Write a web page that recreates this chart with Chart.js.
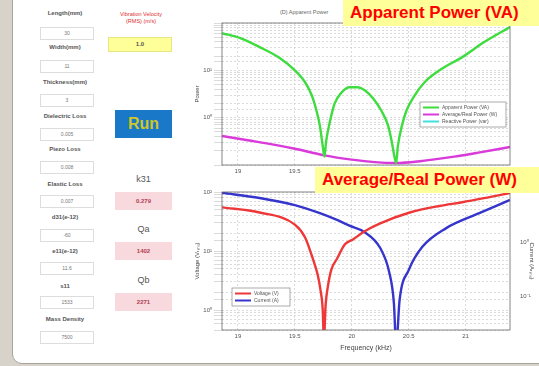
<!DOCTYPE html>
<html>
<head>
<meta charset="utf-8">
<script src="https://cdn.jsdelivr.net/npm/chart.js@4.4.0/dist/chart.umd.min.js"></script>
<style>
  body { margin: 0; width: 539px; height: 366px; background: #d8d3ca; overflow: hidden; font-family: "Liberation Sans", Arial, sans-serif; }
  #panel { position: absolute; left: 12px; top: -12px; width: 540px; height: 374px; background: #fff; border: 1px solid #a8a49c; border-radius: 10px; }
  .lbl { position: absolute; width: 70px; text-align: center; font-size: 6px; font-weight: bold; color: #555; }
  .box { position: absolute; left: 40px; width: 52px; height: 11px; border: 1px solid #ddd; font-size: 5px; color: #777; text-align: center; line-height: 11px; }
  .res { position: absolute; left: 115px; width: 57px; height: 18px; background: #f7d9de; font-size: 6px; font-weight: bold; color: #b04050; text-align: center; line-height: 18px; }
  .rlbl { position: absolute; left: 115px; width: 57px; text-align: center; font-size: 9px; color: #555; }
  canvas { position: absolute; }
  .tag { position: absolute; background: #ffff99; color: #f00; font-weight: bold; font-size: 17px; padding: 0 7px; z-index: 5; line-height: 26px; }
</style>
</head>
<body>
<div id="panel"></div>
<div class="lbl" style="left:30px;top:10px">Length(mm)</div><div class="box" style="top:27px">30</div>
<div class="lbl" style="left:30px;top:44px">Width(mm)</div><div class="box" style="top:60px">11</div>
<div class="lbl" style="left:30px;top:79px">Thickness(mm)</div><div class="box" style="top:94px">3</div>
<div class="lbl" style="left:30px;top:113px">Dielectric Loss</div><div class="box" style="top:128px">0.005</div>
<div class="lbl" style="left:30px;top:146px">Piezo Loss</div><div class="box" style="top:161px">0.008</div>
<div class="lbl" style="left:30px;top:181px">Elastic Loss</div><div class="box" style="top:195px">0.007</div>
<div class="lbl" style="left:30px;top:214px">d31(e-12)</div><div class="box" style="top:229px">-60</div>
<div class="lbl" style="left:30px;top:248px">e11(e-12)</div><div class="box" style="top:262px">11.6</div>
<div class="lbl" style="left:30px;top:283px">s11</div><div class="box" style="top:296px">1533</div>
<div class="lbl" style="left:30px;top:316px">Mass Density</div><div class="box" style="top:331px">7500</div>

<div style="position:absolute;left:105px;top:11px;width:72px;text-align:center;font-size:5.5px;color:#e03030;line-height:7px">Vibration Velocity<br>(RMS) (m/s)</div>
<div style="position:absolute;left:108px;top:37px;width:62px;height:13px;background:#ffff99;border:1px solid #e8e880;font-size:6px;font-weight:bold;color:#555;text-align:center;line-height:13px">1.0</div>
<div style="position:absolute;left:115px;top:110px;width:57px;height:28px;background:#1a78c8;color:#cfc628;font-weight:bold;font-size:16px;text-align:center;line-height:28px">Run</div>
<div class="rlbl" style="top:174px">k31</div><div class="res" style="top:192px">0.279</div>
<div class="rlbl" style="top:224px">Qa</div><div class="res" style="top:242px">1402</div>
<div class="rlbl" style="top:275px">Qb</div><div class="res" style="top:293px">2271</div>

<div style="position:absolute;left:280px;top:9px;font-size:5.5px;color:#666">(D) Apparent Power</div>
<div class="tag" style="left:343px;top:0;width:182px">Apparent Power (VA)</div>
<div class="tag" style="left:315px;top:167px;width:210px">Average/Real Power (W)</div>

<canvas id="top" width="359" height="180" style="left:180px;top:0"></canvas>
<canvas id="bottom" width="359" height="185" style="left:180px;top:167px"></canvas>

<script>
const freqTicks = [19, 19.5, 20, 20.5, 21];

const freqApparent = [18.86, 19.02, 19.19, 19.37, 19.5, 19.59, 19.65, 19.69, 19.72, 19.745, 19.76, 19.775, 19.81, 19.85, 19.91, 19.98, 20.05, 20.12, 20.19, 20.26, 20.32, 20.35, 20.375, 20.39, 20.405, 20.44, 20.48, 20.55, 20.64, 20.77, 20.97, 21.16, 21.39];
const apparentPower = [61, 48, 31, 18, 10, 5.6, 2.9, 1.4, 0.67, 0.25, 0.15, 0.32, 0.87, 2.0, 3.4, 4.4, 4.4, 3.7, 2.5, 1.4, 0.67, 0.32, 0.15, 0.11, 0.25, 0.67, 1.4, 2.9, 5.6, 10, 19, 39, 82];

const freqReal = [18.86, 19.1, 19.35, 19.5, 19.76, 20.0, 20.2, 20.39, 20.6, 20.9, 21.1, 21.39];
const realPower = [0.41, 0.33, 0.26, 0.22, 0.16, 0.13, 0.115, 0.11, 0.12, 0.15, 0.18, 0.24];

const freqVoltage = [18.86, 19.19, 19.5, 19.59, 19.66, 19.7, 19.725, 19.745, 19.755, 19.77, 19.79, 19.82, 19.87, 19.94, 20.01, 20.11, 20.25, 20.51, 20.77, 20.97, 21.21, 21.39];
const voltage = [55, 45, 28, 17, 7.2, 4, 2.2, 1, 0.3, 1.2, 2.5, 4.8, 7.4, 13, 15.7, 21.5, 29.5, 45, 58, 67, 82, 96];

const freqCurrent = [18.86, 19.19, 19.5, 19.72, 19.87, 19.98, 20.11, 20.25, 20.33, 20.37, 20.39, 20.42, 20.5, 20.62, 20.83, 21.12, 21.39];
const current = [8.1, 6.5, 4.8, 3.4, 2.55, 2.0, 1.53, 0.77, 0.27, 0.074, 0.012, 0.084, 0.30, 0.81, 1.8, 3.4, 6.0];

const pts = (xs, ys) => xs.map((x, i) => ({ x: x, y: ys[i] }));

const sup = { '-': '⁻', '0': '⁰', '1': '¹', '2': '²', '3': '³' };
function decade(v) {
  const p = Math.log10(v);
  if (Math.abs(p - Math.round(p)) > 1e-6) return '';
  return '10' + String(Math.round(p)).split('').map(c => sup[c]).join('');
}

const tickFont = { family: 'Liberation Sans', size: 6 };
const gridStyle = { color: '#d2d2d2', lineWidth: 0.8 };

// box around the plot area, like matlab
const frame = {
  id: 'frame',
  afterDraw(chart) {
    const a = chart.chartArea, c = chart.ctx;
    c.save();
    c.strokeStyle = '#666';
    c.lineWidth = 0.8;
    c.strokeRect(a.left, a.top, a.right - a.left, a.bottom - a.top);
    c.restore();
  }
};

// legend box drawn inside the axes
const boxLegend = {
  id: 'boxLegend',
  afterDraw(chart, args, opts) {
    if (!opts || opts.x === undefined) return;
    const c = chart.ctx;
    const sets = chart.data.datasets;
    const h = sets.length * 7 + 4;
    c.save();
    c.fillStyle = '#fff';
    c.strokeStyle = '#888';
    c.lineWidth = 0.7;
    c.fillRect(opts.x, opts.y, opts.w, h);
    c.strokeRect(opts.x, opts.y, opts.w, h);
    c.font = '5px Liberation Sans';
    c.textBaseline = 'middle';
    sets.forEach((d, i) => {
      const y = opts.y + 5.5 + i * 7;
      c.strokeStyle = d.borderColor;
      c.lineWidth = 2;
      c.beginPath();
      c.moveTo(opts.x + 3, y);
      c.lineTo(opts.x + 19, y);
      c.stroke();
      c.fillStyle = '#555';
      c.fillText(d.label, opts.x + 22, y);
    });
    c.restore();
  }
};

function xScale(height, title) {
  return {
    type: 'linear', min: 18.86, max: 21.39,
    afterBuildTicks: s => { s.ticks = freqTicks.map(v => ({ value: v })); },
    afterFit: s => { s.height = height; },
    ticks: { font: tickFont, color: '#555', maxRotation: 0, autoSkip: false, padding: 3, callback: v => String(v) },
    grid: { ...gridStyle, drawTicks: false },
    border: { display: false, dash: [2, 2] },
    title: { display: !!title, text: title, font: { family: 'Liberation Sans', size: 7 }, color: '#444', padding: 0 }
  };
}

function logScale(min, max, width, title, pos, grid, edgeLabels) {
  return {
    type: 'logarithmic', position: pos, min: min, max: max,
    afterFit: s => { s.width = width; },
    ticks: {
      font: tickFont, color: '#555', autoSkip: false, padding: 2,
      callback: v => (!edgeLabels && (v === min || v === max)) ? '' : decade(v)
    },
    grid: grid ? gridStyle : { display: false },
    border: { display: false, dash: [2, 2] },
    title: { display: true, text: title, font: { family: 'Liberation Sans', size: 6 }, color: '#444', padding: 0 }
  };
}

const lineOpts = { pointRadius: 0, borderWidth: 2.4, cubicInterpolationMode: 'monotone' };

new Chart(document.getElementById('top'), {
  type: 'line',
  data: {
    datasets: [
      { label: 'Apparent Power (VA)', data: pts(freqApparent, apparentPower), borderColor: '#3fdc3f', ...lineOpts },
      { label: 'Average/Real Power (W)', data: pts(freqReal, realPower), borderColor: '#d93ad9', ...lineOpts },
      { label: 'Reactive Power (var)', data: [], borderColor: '#40e0e0', ...lineOpts }
    ]
  },
  options: {
    responsive: false,
    animation: false,
    layout: { padding: { top: 23, right: 29, left: 14, bottom: 0 } },
    plugins: { legend: { display: false }, tooltip: { enabled: false }, boxLegend: { x: 240, y: 102, w: 86 } },
    scales: {
      x: xScale(15, ''),
      y: logScale(0.1, 100, 28, 'Power', 'left', true, false)
    }
  },
  plugins: [frame, boxLegend]
});

new Chart(document.getElementById('bottom'), {
  type: 'line',
  data: {
    datasets: [
      { label: 'Voltage (V)', data: pts(freqVoltage, voltage), borderColor: '#ee3838', yAxisID: 'y', ...lineOpts },
      { label: 'Current (A)', data: pts(freqCurrent, current), borderColor: '#3535cc', yAxisID: 'y1', ...lineOpts }
    ]
  },
  options: {
    responsive: false,
    animation: false,
    layout: { padding: { top: 25, right: 4, left: 14, bottom: 0 } },
    plugins: { legend: { display: false }, tooltip: { enabled: false }, boxLegend: { x: 52, y: 121, w: 58 } },
    scales: {
      x: xScale(22, 'Frequency (kHz)'),
      y: logScale(0.46, 100, 28, 'Voltage (Vᵣₘₛ)', 'left', true, true),
      y1: logScale(0.0234, 8.4, 25, 'Current (Aᵣₘₛ)', 'right', false, false)
    }
  },
  plugins: [frame, boxLegend]
});
</script>
</body>
</html>
